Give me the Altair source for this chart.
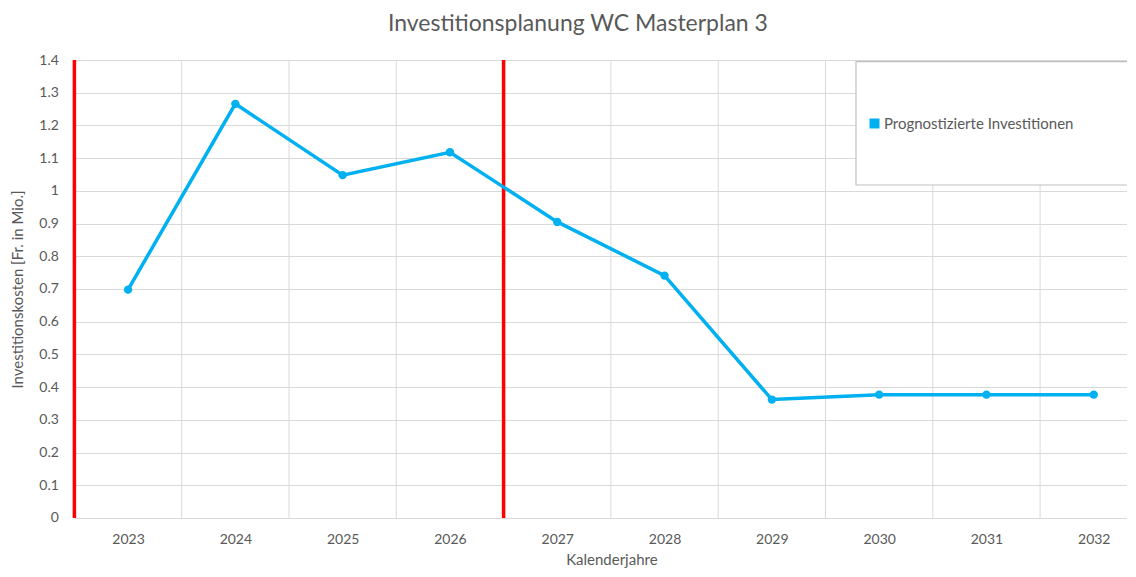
import altair as alt
import pandas as pd

# ---- data ----
years = [2023, 2024, 2025, 2026, 2027, 2028, 2029, 2030, 2031, 2032]
invest = [0.698, 1.266, 1.048, 1.118, 0.905, 0.741, 0.362, 0.377, 0.377, 0.377]
series_name = "Prognostizierte Investitionen"
phase_bounds = [2022.5, 2026.5]
y_ticks = [0, 0.1, 0.2, 0.3, 0.4, 0.5, 0.6, 0.7, 0.8, 0.9, 1.0, 1.1, 1.2, 1.3, 1.4]

title_text = "Investitionsplanung WC Masterplan 3"
x_title = "Kalenderjahre"
y_title = "Investitionskosten [Fr. in Mio.]"

df = pd.DataFrame({"Jahr": years, "Wert": invest, "Serie": [series_name] * len(years)})
bounds_df = pd.DataFrame({"Grenze": phase_bounds})

# ---- layout ----
LEFT = 66.4
W = 1053
H = 458
BAND = 107.3
FONT = "Lato"
TXT = "#595959"
BLUE = "#00B0F0"
GRID = "#d9d9d9"

x_scale = alt.Scale(domain=[2022.5, 2022.5 + W / BAND], nice=False, zero=False)
y_scale = alt.Scale(domain=[0, 1.4], nice=False, zero=True)

x_axis = alt.Axis(
    values=years,
    format="d",
    title=x_title,
    grid=False,
    ticks=False,
    domain=False,
    labelPadding=15,
    labelFontSize=14,
    titleX=537,
    titleY=42,
    titleBaseline="middle",
    titleFontSize=15,
)
y_axis = alt.Axis(
    values=y_ticks,
    format="~g",
    title=y_title,
    grid=True,
    gridColor=GRID,
    gridWidth=1,
    ticks=False,
    domain=False,
    labelPadding=16,
    labelFontSize=14,
    titleX=-57,
    titleY=H / 2,
    titleAngle=270,
    titleAlign="center",
    titleBaseline="middle",
    titleFontSize=15,
)

vgrid = (
    alt.Chart(df)
    .transform_calculate(g="datum.Jahr + 0.5")
    .mark_rule(color=GRID, strokeWidth=1, clip=True)
    .encode(x=alt.X("g:Q", scale=x_scale, axis=x_axis))
)

red = (
    alt.Chart(bounds_df)
    .mark_rule(color="#FF0000", strokeWidth=3.5)
    .encode(x=alt.X("Grenze:Q", scale=x_scale, axis=x_axis))
)

line = (
    alt.Chart(df)
    .mark_line(color=BLUE, strokeWidth=3.5)
    .encode(
        x=alt.X("Jahr:Q", scale=x_scale, axis=x_axis),
        y=alt.Y("Wert:Q", scale=y_scale, axis=y_axis),
    )
)

points = (
    alt.Chart(df)
    .mark_circle(size=70, opacity=1)
    .encode(
        x=alt.X("Jahr:Q", scale=x_scale, axis=x_axis),
        y=alt.Y("Wert:Q", scale=y_scale, axis=y_axis),
        color=alt.Color(
            "Serie:N",
            scale=alt.Scale(range=[BLUE]),
            legend=alt.Legend(
                title=None,
                orient="none",
                legendX=792.6,
                legendY=56,
                symbolType="square",
                symbolSize=100,
                symbolFillColor=BLUE,
                symbolStrokeWidth=0,
                labelFont=FONT,
                labelFontSize=15,
                labelColor=TXT,
                labelOffset=2,
                labelLimit=400,
                padding=0,
            ),
        ),
    )
)

legend_box = (
    alt.Chart(alt.Data(values=[{"k": 0}]))
    .mark_rect(fill="white", stroke="#bfbfbf", strokeWidth=1.2, clip=True)
    .encode(
        x=alt.value(781.6),
        x2=alt.value(W + 20),
        y=alt.value(1.7),
        y2=alt.value(125),
    )
)

chart = (
    alt.layer(vgrid, red, line, points, legend_box)
    .properties(
        width=W,
        height=H,
        padding={"left": LEFT, "top": 52, "right": 0, "bottom": 569 - 8 - 52 - H},
        autosize=alt.AutoSizeParams(type="none"),
        title=alt.TitleParams(
            title_text,
            font=FONT,
            fontSize=23,
            fontWeight="normal",
            color=TXT,
            anchor="middle",
            dx=-23,
            offset=17,
        ),
    )
    .configure_axis(
        labelFont=FONT,
        titleFont=FONT,
        labelColor=TXT,
        titleColor=TXT,
        titleFontWeight="normal",
    )
    .configure_view(stroke=None)
)

chart.save("out.html", embed_options={"renderer": "svg", "actions": False})
